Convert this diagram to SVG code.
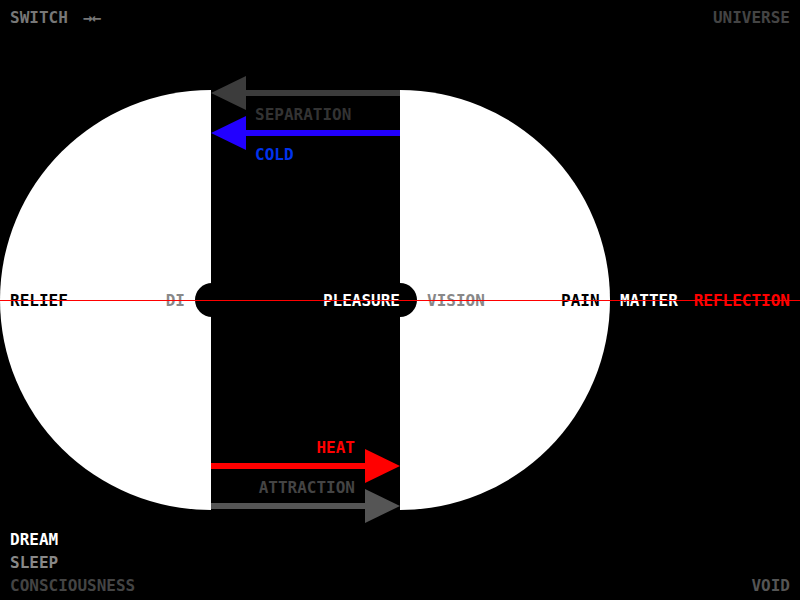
<svg xmlns="http://www.w3.org/2000/svg" width="800" height="600" viewBox="0 0 800 600">
<style>
text{font-family:"DejaVu Sans Mono","Liberation Mono",monospace;font-weight:bold;font-size:16px}
.mid{dominant-baseline:central}
.end{text-anchor:end}
</style>
<rect width="800" height="600" fill="#000"/>
<g id="left-half">
<path d="M211,90 A211,210 0 0 0 211,510 Z" fill="#fff"/>
</g>
<g id="right-half">
<path d="M400,90 A210,210 0 0 1 400,510 Z" fill="#fff"/>
</g>
<g id="pill">
<rect x="195" y="283" width="222" height="34" rx="17" fill="#000"/>
</g>
<g id="connectors">
<line x1="400" y1="93" x2="244" y2="93" stroke="#3c3c3c" stroke-width="6"/>
<polygon points="211,93 246,76 246,110" fill="#3c3c3c"/>
<line x1="400" y1="133" x2="244" y2="133" stroke="#2200ff" stroke-width="6"/>
<polygon points="211,133 246,116 246,150" fill="#2200ff"/>
<line x1="211" y1="466" x2="367" y2="466" stroke="#f00" stroke-width="6"/>
<polygon points="400,466 365,449 365,483" fill="#f00"/>
<line x1="211" y1="506" x2="367" y2="506" stroke="#555" stroke-width="6"/>
<polygon points="400,506 365,489 365,523" fill="#555"/>
</g>
<g id="labels">
<text x="10" y="23" fill="#777">SWITCH</text>
<text x="83" y="23" fill="#777" font-size="20" font-weight="normal" letter-spacing="-1">→←</text>
<text x="790" y="23" class="end" fill="#444">UNIVERSE</text>
<text x="255" y="120" fill="#333">SEPARATION</text>
<text x="255" y="160" fill="#0033ee">COLD</text>
<text x="355" y="453" class="end" fill="#f00">HEAT</text>
<text x="355" y="493" class="end" fill="#444">ATTRACTION</text>
<text x="10" y="300" class="mid" fill="#000">RELIEF</text>
<text x="185" y="300" class="mid end" fill="#888">DI</text>
<text x="400" y="300" class="mid end" fill="#fff">PLEASURE</text>
<text x="427" y="300" class="mid" fill="#888">VISION</text>
<text x="561" y="300" class="mid" fill="#000">PAIN</text>
<text x="620" y="300" class="mid" fill="#fff">MATTER</text>
<text x="790" y="300" class="mid end" fill="#f00">REFLECTION</text>
<text x="10" y="545" fill="#fff">DREAM</text>
<text x="10" y="568" fill="#888">SLEEP</text>
<text x="10" y="591" fill="#444">CONSCIOUSNESS</text>
<text x="790" y="591" class="end" fill="#555">VOID</text>
</g>
<g id="axis">
<line x1="0" y1="300.5" x2="800" y2="300.5" stroke="#f00" stroke-width="1"/>
</g>
</svg>
